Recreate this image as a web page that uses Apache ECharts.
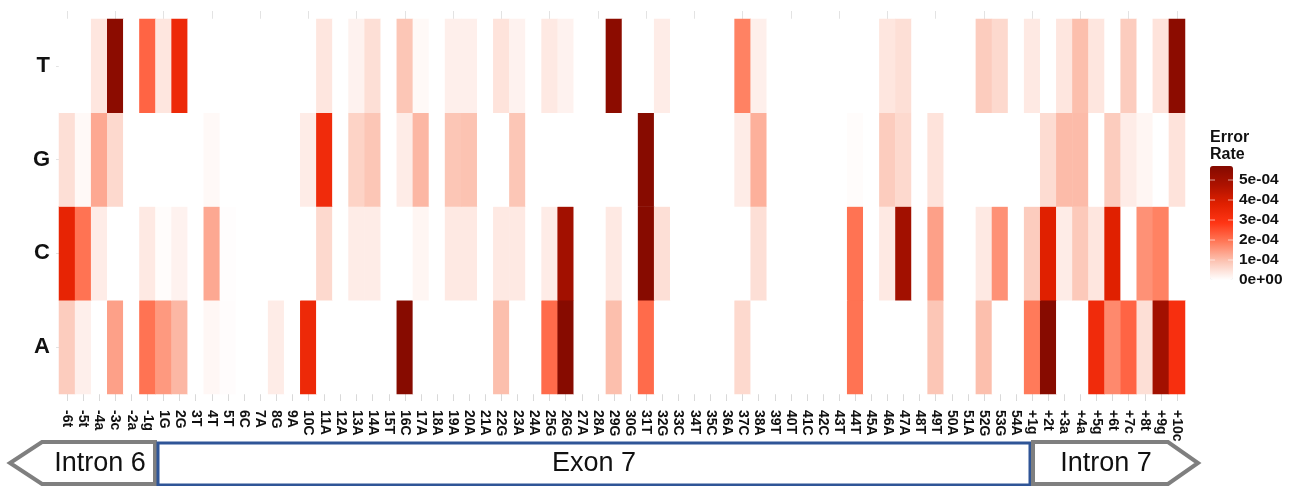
<!DOCTYPE html>
<html>
<head>
<meta charset="utf-8">
<script src="https://cdn.jsdelivr.net/npm/echarts@6/dist/echarts.min.js"></script>
<style>
html,body{margin:0;padding:0;background:#fff;}
#chart{width:1298px;height:486px;}
</style>
</head>
<body>
<div id="chart"></div>
<script>
// Positions (x axis)
const positions = ['-6t','-5t','-4a','-3c','-2a','-1g','1G','2G','3T','4T','5T','6C','7A','8G','9A','10C','11A','12A','13A','14A','15T','16C','17A','18A','19A','20A','21A','22G','23A','24A','25G','26G','27A','28A','29G','30G','31T','32G','33C','34T','35C','36A','37C','38A','39T','40T','41C','42C','43T','44T','45A','46A','47A','48T','49T','50A','51A','52G','53G','54A','+1g','+2t','+3a','+4a','+5g','+6t','+7c','+8t','+9g','+10c'];
// Bases (y axis, bottom to top)
const bases = ['A','C','G','T'];
// Error rates in units of 1e-4, one value per position
const UNIT = 1e-4;
const rateT = [0,0,0.4,5.5,0,2.2,0.4,3.4,0,0, 0,0,0,0,0,0,0.4,0,0.2,0.5, 0,0.9,0.1,0,0.25,0.25,0,0.45,0.2,0, 0.35,0.2,0,0,5.5,0,0,0.3,0,0, 0,0,1.8,0.25,0,0,0,0,0,0, 0,0.4,0.5,0,0,0,0,0.8,0.6,0, 0.35,0,0.4,1.0,0.4,0,0.8,0,0.45,5.5];
const rateG = [0.5,0.1,1.3,0.6,0,0,0,0,0,0.1, 0,0,0,0,0,0.3,3.3,0,0.7,0.9, 0,0.3,1.1,0,0.9,0.95,0,0,0.9,0, 0,0,0,0,0,0,5.6,0,0,0, 0,0,0.3,1.2,0,0,0,0,0,0.05, 0,0.8,0.6,0,0.45,0,0,0,0,0, 0,0.55,1.05,1.05,0,0.8,0.3,0.15,0,0.45];
const rateC = [3.6,2.0,0.3,0,0,0.35,0.05,0.2,0,1.3, 0.03,0,0,0,0,0,0.6,0,0.3,0.3, 0,0,0.15,0,0.35,0.35,0,0.35,0.35,0, 0.3,5.0,0,0,0.35,0,5.6,0.5,0,0, 0,0,0,0.5,0,0,0,0,0,2.0, 0,0.35,5.0,0,1.4,0,0,0.35,1.6,0, 0.8,3.8,0.3,0.85,0.4,3.8,0,1.6,1.8,0];
const rateA = [0.8,0.25,0,1.4,0,2.0,1.5,1.1,0,0.12, 0.04,0,0,0.3,0,3.4,0,0,0,0, 0,5.6,0,0,0,0,0,1.0,0,0, 2.1,5.6,0,0,1.0,0,2.1,0,0,0, 0,0,0.6,0,0,0,0,0,0,2.0, 0,0,0,0,0.9,0,0,1.0,0,0, 1.9,5.6,0,0,3.3,1.7,2.2,0.5,5.0,3.1];
// Legend tick labels
const legendTicks = [5,4,3,2,1,0];
const legendLabels = ['5e-04','4e-04','3e-04','2e-04','1e-04','0e+00'];
const RATE_MAX = 5.7;

const rows = {A: rateA, C: rateC, G: rateG, T: rateT};
const data = [];
bases.forEach((b, yi) => {
  rows[b].forEach((v, xi) => data.push([xi, yi, v * UNIT]));
});

const chart = echarts.init(document.getElementById('chart'), null, {renderer: 'canvas'});

const barLeft = 1210, barTop = 166, barW = 23, barH = 114;
const graphics = [];
// legend title
graphics.push({type:'text', left:1210, top:129, style:{text:'Error\nRate', font:'bold 16px "Liberation Sans", Arial, sans-serif', fill:'#111', lineHeight:17}});
legendTicks.forEach((t, i) => {
  const y = barTop + barH * (1 - t / RATE_MAX);
  graphics.push({type:'text', x:1239, y:y, style:{text:legendLabels[i], font:'bold 15.5px "Liberation Sans", Arial, sans-serif', fill:'#111', textVerticalAlign:'middle', verticalAlign:'middle'}, z:10});
  graphics.push({type:'line', shape:{x1:barLeft, y1:y, x2:barLeft+5, y2:y}, style:{stroke:'rgba(255,255,255,0.6)', lineWidth:1}, z:10});
  graphics.push({type:'line', shape:{x1:barLeft+barW-5, y1:y, x2:barLeft+barW, y2:y}, style:{stroke:'rgba(255,255,255,0.6)', lineWidth:1}, z:10});
});
// gene structure annotation
graphics.push({type:'polygon', shape:{points:[[155,442],[42,442],[10,463],[42,484],[155,484]]}, style:{fill:'#fff', stroke:'#7f7f7f', lineWidth:4}});
graphics.push({type:'text', x:100, y:464, style:{text:'Intron 6', font:'27px "Liberation Sans", Arial, sans-serif', fill:'#111', textAlign:'center', textVerticalAlign:'middle', align:'center', verticalAlign:'middle'}});
graphics.push({type:'rect', shape:{x:158, y:443, width:872, height:42}, style:{fill:'#fff', stroke:'#2f5597', lineWidth:3}});
graphics.push({type:'text', x:594, y:464, style:{text:'Exon 7', font:'27px "Liberation Sans", Arial, sans-serif', fill:'#111', textAlign:'center', textVerticalAlign:'middle', align:'center', verticalAlign:'middle'}});
graphics.push({type:'polygon', shape:{points:[[1033,442],[1168,442],[1198,463],[1168,484],[1033,484]]}, style:{fill:'#fff', stroke:'#7f7f7f', lineWidth:4}});
graphics.push({type:'text', x:1106, y:464, style:{text:'Intron 7', font:'27px "Liberation Sans", Arial, sans-serif', fill:'#111', textAlign:'center', textVerticalAlign:'middle', align:'center', verticalAlign:'middle'}});

chart.setOption({
  animation: false,
  backgroundColor: '#fff',
  grid: {left: 59, right: 113, top: 19, bottom: 92, containLabel: false},
  xAxis: [{
    type: 'category', data: positions, position: 'bottom',
    axisLine: {show: false},
    axisTick: {show: true, alignWithLabel: true, length: 7, lineStyle: {color: '#d9d9d9'}},
    axisLabel: {interval: 0, rotate: -90, margin: 16, fontSize: 14, fontWeight: 'bold', color: '#111', fontFamily: '"Liberation Sans", Arial, sans-serif'},
    splitLine: {show: false}
  }, {
    type: 'category', data: positions, position: 'top',
    axisLine: {show: false},
    axisTick: {show: true, alignWithLabel: true, length: 8, lineStyle: {color: '#e3e3e3'}},
    axisLabel: {show: false},
    splitLine: {show: false}
  }],
  yAxis: {
    type: 'category', data: bases,
    axisLine: {show: false},
    axisTick: {show: true, alignWithLabel: true, length: 3, lineStyle: {color: '#e3e3e3'}},
    axisLabel: {fontSize: 22, fontWeight: 'bold', color: '#111', margin: 9, fontFamily: '"Liberation Sans", Arial, sans-serif'},
    splitLine: {show: false}
  },
  visualMap: {
    type: 'continuous', min: 0, max: RATE_MAX * UNIT, calculable: false,
    orient: 'vertical', left: barLeft, top: barTop, itemWidth: barW, itemHeight: barH,
    padding: 0, text: null, showLabel: false,
    inRange: {color: ['#ffffff', '#fcc3b2', '#ff7a5a', '#ff3514', '#e02000', '#ad1200', '#830a00']}
  },
  series: [{
    type: 'heatmap', data: data, xAxisIndex: 0,
    itemStyle: {borderWidth: 0},
    emphasis: {disabled: true}
  }],
  graphic: graphics
});
</script>
</body>
</html>
